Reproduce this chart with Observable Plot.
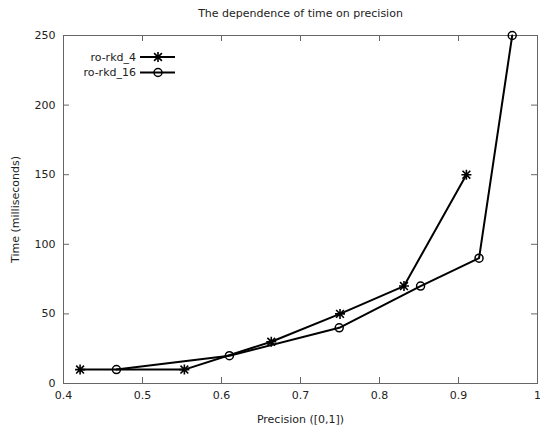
<!DOCTYPE html>
<html>
<head>
<meta charset="utf-8">
<script src="https://cdn.jsdelivr.net/npm/d3@7"></script>
<script src="https://cdn.jsdelivr.net/npm/@observablehq/plot@0.6"></script>
<style>
  html, body { margin: 0; padding: 0; background: #fff; }
  #chart { width: 540px; height: 431px; }
</style>
</head>
<body>
<div id="chart"></div>
<script>
// ---- data ----
const title = "The dependence of time on precision";
const xLabel = "Precision ([0,1])";
const yLabel = "Time (milliseconds)";
const seriesNames = ["ro-rkd_4", "ro-rkd_16"];
const rkd4Precision = [0.421, 0.553, 0.663, 0.750, 0.831, 0.910];
const rkd4Time      = [10, 10, 30, 50, 70, 150];
const rkd16Precision = [0.467, 0.610, 0.749, 0.852, 0.926, 0.968];
const rkd16Time      = [10, 20, 40, 70, 90, 250];
const xTicks = [0.4, 0.5, 0.6, 0.7, 0.8, 0.9, 1];
const yTicks = [0, 50, 100, 150, 200, 250];

const rkd4 = rkd4Precision.map((x, i) => ({x, y: rkd4Time[i]}));
const rkd16 = rkd16Precision.map((x, i) => ({x, y: rkd16Time[i]}));

// 8-armed asterisk (gnuplot point type 3)
const asterisk = {
  draw(ctx, size) {
    const r = Math.sqrt(size / Math.PI);
    const d = r * 0.78;
    ctx.moveTo(-r, 0); ctx.lineTo(r, 0);
    ctx.moveTo(0, -r); ctx.lineTo(0, r);
    ctx.moveTo(-d, -d); ctx.lineTo(d, d);
    ctx.moveTo(-d, d); ctx.lineTo(d, -d);
  }
};

const mL = 63, mR = 3, mT = 35, mB = 48;
const W = 540, H = 431;
const fw = W - mL - mR, fh = H - mT - mB;
const tickLen = 6;
const grey = "#666";
const ink = "#222";

const chart = Plot.plot({
  width: W, height: H,
  marginLeft: mL, marginRight: mR, marginTop: mT, marginBottom: mB,
  style: {fontFamily: "DejaVu Sans", fontSize: "11px", color: ink, background: "#fff"},
  x: {domain: [0.4, 1]},
  y: {domain: [0, 250]},
  marks: [
    // inward ticks on all four sides
    Plot.tickX(xTicks, {x: d => d, insetTop: fh - tickLen, stroke: grey}),
    Plot.tickX(xTicks, {x: d => d, insetBottom: fh - tickLen, stroke: grey}),
    Plot.tickY(yTicks, {y: d => d, insetRight: fw - tickLen, stroke: grey}),
    Plot.tickY(yTicks, {y: d => d, insetLeft: fw - tickLen, stroke: grey}),
    Plot.frame({stroke: grey, strokeWidth: 1}),
    Plot.axisX({ticks: xTicks, tickSize: 0, tickPadding: 8, label: null,
      tickFormat: d => d === 1 ? "1" : d.toFixed(1), fill: ink}),
    Plot.axisY({ticks: yTicks, tickSize: 0, tickPadding: 8, label: null, fill: ink}),
    // series
    Plot.line(rkd4, {x: "x", y: "y", stroke: "black", strokeWidth: 2}),
    Plot.dot(rkd4, {x: "x", y: "y", symbol: asterisk, r: 5, stroke: "black", strokeWidth: 1.6}),
    Plot.line(rkd16, {x: "x", y: "y", stroke: "black", strokeWidth: 2}),
    Plot.dot(rkd16, {x: "x", y: "y", symbol: "circle", r: 4, stroke: "black", strokeWidth: 1.5, fill: "none"}),
    // titles
    Plot.text([title], {frameAnchor: "top", dy: -22, textAnchor: "middle", lineAnchor: "middle", fill: ink, fontSize: 11}),
    Plot.text([xLabel], {frameAnchor: "bottom", dy: 36, textAnchor: "middle", lineAnchor: "middle", fill: ink, fontSize: 11}),
    Plot.text([yLabel], {frameAnchor: "left", dx: -48, rotate: -90, textAnchor: "middle", lineAnchor: "middle", fill: ink, fontSize: 11})
  ]
});
document.getElementById("chart").appendChild(chart);

// legend (inside, top-left)
const svg = d3.select(chart);
const leg = svg.append("g").attr("font-family", "DejaVu Sans").attr("font-size", 11);
const legRows = [
  {name: seriesNames[0], sym: asterisk, r: 5, sw: 1.6},
  {name: seriesNames[1], sym: d3.symbolCircle, r: 4, sw: 1.5}
];
legRows.forEach((row, i) => {
  const y = 57 + i * 15.5;
  leg.append("text").attr("x", 136).attr("y", y).attr("dy", "0.35em")
    .attr("text-anchor", "end").attr("fill", ink).text(row.name);
  leg.append("line").attr("x1", 140).attr("x2", 175).attr("y1", y).attr("y2", y)
    .attr("stroke", "black").attr("stroke-width", 2);
  leg.append("path").attr("transform", `translate(158,${y})`)
    .attr("d", d3.symbol(row.sym, Math.PI * row.r * row.r)())
    .attr("fill", "none").attr("stroke", "black").attr("stroke-width", row.sw);
});
</script>
</body>
</html>
